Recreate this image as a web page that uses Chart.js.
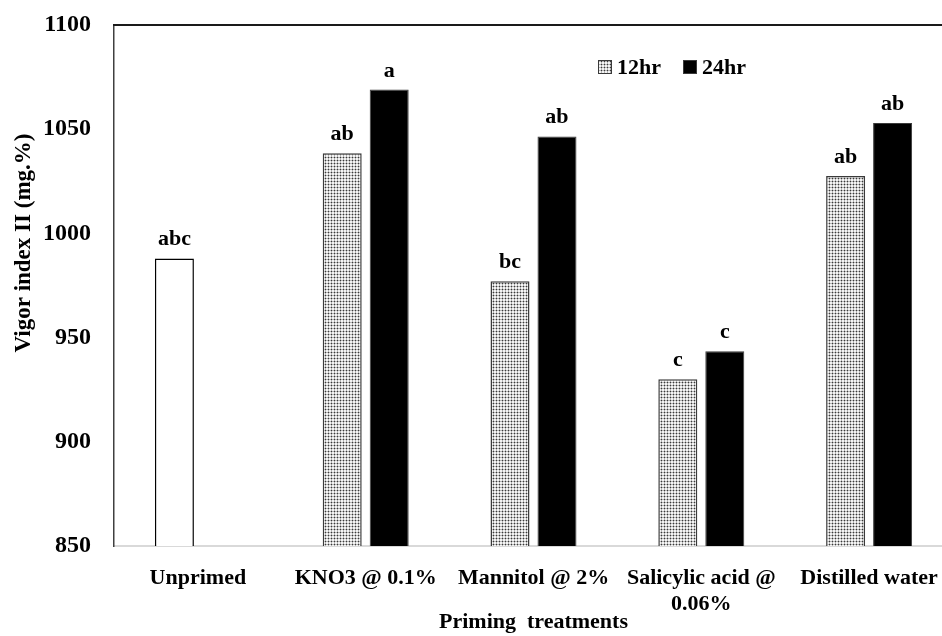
<!DOCTYPE html>
<html>
<head>
<meta charset="utf-8">
<script src="https://cdn.jsdelivr.net/npm/chart.js@4/dist/chart.umd.min.js"></script>
<style>
  html, body { margin: 0; padding: 0; background: #fff; overflow: hidden; width: 942px; height: 636px; }
  #wrap { width: 960px; height: 636px; }
</style>
</head>
<body>
<div id="wrap"><canvas id="c" width="960" height="636"></canvas></div>
<script>
// ---- data ----
const categories = ['Unprimed', 'KNO3 @ 0.1%', 'Mannitol @ 2%', ['Salicylic acid @', '0.06%'], 'Distilled water'];
const seriesNames = ['12hr', '24hr'];
const values12hr = [988, 1038.5, 977, 930, 1027.5];
const values24hr = [null, 1069, 1046.5, 943.5, 1053];
const letters12hr = ['abc', 'ab', 'bc', 'c', 'ab'];
const letters24hr = ['', 'a', 'ab', 'c', 'ab'];
const yTicks = [850, 900, 950, 1000, 1050, 1100];
const xTitle = 'Priming  treatments';
const yTitle = 'Vigor index II (mg.%)';

const FONT = "'Liberation Serif', 'Times New Roman', serif";

const canvas = document.getElementById('c');
const ctx = canvas.getContext('2d');

// dotted pattern for 12hr bars
const pc = document.createElement('canvas');
pc.width = 3; pc.height = 3;
const p = pc.getContext('2d');
p.fillStyle = '#f4f4f4'; p.fillRect(0, 0, 3, 3);
p.fillStyle = '#b4b4b4';
p.fillRect(0, 1, 1, 1); p.fillRect(2, 1, 1, 1); p.fillRect(1, 0, 1, 1); p.fillRect(1, 2, 1, 1);
p.fillStyle = '#3a3a3a'; p.fillRect(1, 1, 1, 1);
const dotted = ctx.createPattern(pc, 'repeat');

const bg12 = values12hr.map((v, i) => i === 0 ? '#ffffff' : dotted);
const bd12 = values12hr.map((v, i) => i === 0 ? '#000000' : '#3a3a3a');

const overlay = {
  id: 'overlay',
  afterDatasetsDraw(chart) {
    const c = chart.ctx;
    const area = chart.chartArea;
    c.save();
    // top frame line
    c.strokeStyle = '#1a1a1a';
    c.lineWidth = 2;
    c.beginPath();
    c.moveTo(area.left - 1, area.top);
    c.lineTo(area.right, area.top);
    c.stroke();
    // significance letters
    c.font = 'bold 22px ' + FONT;
    c.fillStyle = '#000';
    c.textAlign = 'center';
    c.textBaseline = 'alphabetic';
    const letterSets = [letters12hr, letters24hr];
    chart.data.datasets.forEach((ds, di) => {
      const meta = chart.getDatasetMeta(di);
      meta.data.forEach((el, i) => {
        const t = letterSets[di][i];
        if (!t || ds.data[i] == null) return;
        c.fillText(t, el.x, el.y - 13);
      });
    });
    // legend
    const ly = 67;
    let lx = 598;
    seriesNames.forEach((name, di) => {
      c.fillStyle = di === 0 ? dotted : '#000';
      c.fillRect(lx, ly - 7, 14, 14);
      c.strokeStyle = '#3a3a3a';
      c.lineWidth = 1;
      c.strokeRect(lx + 0.5, ly - 6.5, 13, 13);
      c.fillStyle = '#000';
      c.textAlign = 'left';
      c.textBaseline = 'middle';
      c.fillText(name, lx + 19, ly + 1);
      lx += 85;
    });
    // y title
    c.font = 'bold 23px ' + FONT;
    c.translate(24, 243);
    c.rotate(-Math.PI / 2);
    c.textAlign = 'center';
    c.textBaseline = 'middle';
    c.fillText(yTitle, 0, 0);
    c.restore();
  }
};

new Chart(ctx, {
  type: 'bar',
  data: {
    labels: categories,
    datasets: [
      { label: seriesNames[0], data: values12hr, backgroundColor: bg12, borderColor: bd12, borderWidth: 1.5 },
      { label: seriesNames[1], data: values24hr, backgroundColor: '#000000', borderColor: '#3a3a3a', borderWidth: 1 }
    ]
  },
  options: {
    responsive: false,
    animation: false,
    devicePixelRatio: 1,
    layout: { padding: { top: 25, right: 7, bottom: 0, left: 0 } },
    categoryPercentage: 0.56,
    barPercentage: 0.83,
    plugins: { legend: { display: false }, tooltip: { enabled: false } },
    scales: {
      x: {
        grid: { display: false },
        border: { display: true, color: '#d9d9d9', width: 2 },
        ticks: { color: '#000', font: { family: FONT, size: 22, weight: 'bold', lineHeight: 1.15 }, padding: 12, maxRotation: 0, autoSkip: false },
        title: { display: true, text: xTitle, color: '#000', font: { family: FONT, size: 22, weight: 'bold' }, padding: { top: 0, bottom: 0 } },
        afterFit(scale) { scale.height = 90; }
      },
      y: {
        min: yTicks[0],
        max: yTicks[yTicks.length - 1],
        grid: { display: false },
        border: { display: true, color: '#404040', width: 1.5 },
        afterBuildTicks(scale) { scale.ticks = yTicks.map(v => ({ value: v })); },
        ticks: { color: '#000', font: { family: FONT, size: 24, weight: 'bold' }, padding: 15, callback: (v) => String(v) },
        afterFit(scale) { scale.width = 114; scale.paddingTop = 0; scale.paddingBottom = 0; }
      }
    }
  },
  plugins: [overlay]
});
</script>
</body>
</html>
